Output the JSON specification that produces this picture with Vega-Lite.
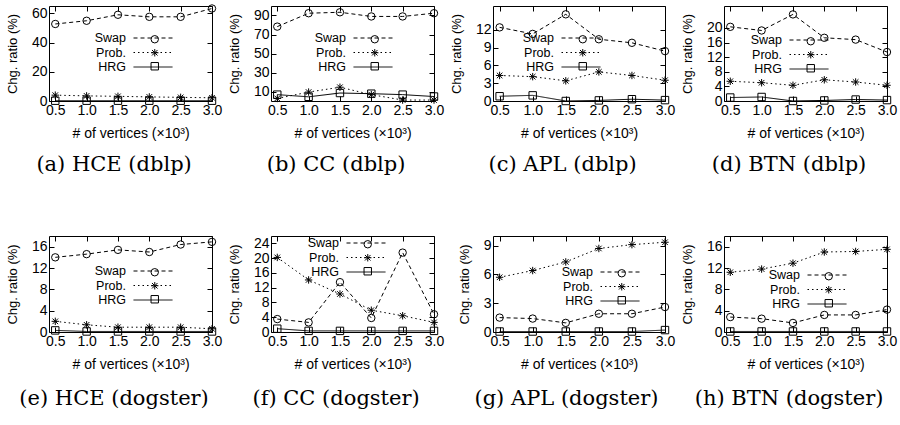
{
"$schema": "https://vega.github.io/schema/vega-lite/v6.json",
"background": "white",
"padding": {"left": 5, "top": 2, "right": 5, "bottom": 5},
"data": {"values": [
{"panel":"a","series":"Swap","x":0.5,"y":52.7},{"panel":"a","series":"Swap","x":1.0,"y":54.9},{"panel":"a","series":"Swap","x":1.5,"y":59.0},{"panel":"a","series":"Swap","x":2.0,"y":57.6},{"panel":"a","series":"Swap","x":2.5,"y":57.6},{"panel":"a","series":"Swap","x":3.0,"y":63.3},
{"panel":"a","series":"Prob.","x":0.5,"y":4.0},{"panel":"a","series":"Prob.","x":1.0,"y":3.5},{"panel":"a","series":"Prob.","x":1.5,"y":3.2},{"panel":"a","series":"Prob.","x":2.0,"y":2.8},{"panel":"a","series":"Prob.","x":2.5,"y":2.5},{"panel":"a","series":"Prob.","x":3.0,"y":2.2},
{"panel":"a","series":"HRG","x":0.5,"y":0.2},{"panel":"a","series":"HRG","x":1.0,"y":0.2},{"panel":"a","series":"HRG","x":1.5,"y":0.2},{"panel":"a","series":"HRG","x":2.0,"y":0.2},{"panel":"a","series":"HRG","x":2.5,"y":0.2},{"panel":"a","series":"HRG","x":3.0,"y":0.2},
{"panel":"b","series":"Swap","x":0.5,"y":78.3},{"panel":"b","series":"Swap","x":1.0,"y":92.4},{"panel":"b","series":"Swap","x":1.5,"y":93.4},{"panel":"b","series":"Swap","x":2.0,"y":89.0},{"panel":"b","series":"Swap","x":2.5,"y":89.0},{"panel":"b","series":"Swap","x":3.0,"y":92.4},
{"panel":"b","series":"Prob.","x":0.5,"y":2.7},{"panel":"b","series":"Prob.","x":1.0,"y":9.4},{"panel":"b","series":"Prob.","x":1.5,"y":14.5},{"panel":"b","series":"Prob.","x":2.0,"y":6.7},{"panel":"b","series":"Prob.","x":2.5,"y":1.0},{"panel":"b","series":"Prob.","x":3.0,"y":1.0},
{"panel":"b","series":"HRG","x":0.5,"y":6.7},{"panel":"b","series":"HRG","x":1.0,"y":4.4},{"panel":"b","series":"HRG","x":1.5,"y":8.4},{"panel":"b","series":"HRG","x":2.0,"y":7.7},{"panel":"b","series":"HRG","x":2.5,"y":6.7},{"panel":"b","series":"HRG","x":3.0,"y":4.7},
{"panel":"c","series":"Swap","x":0.5,"y":12.4},{"panel":"c","series":"Swap","x":1.0,"y":11.3},{"panel":"c","series":"Swap","x":1.5,"y":14.6},{"panel":"c","series":"Swap","x":2.0,"y":10.4},{"panel":"c","series":"Swap","x":2.5,"y":9.8},{"panel":"c","series":"Swap","x":3.0,"y":8.4},
{"panel":"c","series":"Prob.","x":0.5,"y":4.3},{"panel":"c","series":"Prob.","x":1.0,"y":4.1},{"panel":"c","series":"Prob.","x":1.5,"y":3.4},{"panel":"c","series":"Prob.","x":2.0,"y":4.9},{"panel":"c","series":"Prob.","x":2.5,"y":4.3},{"panel":"c","series":"Prob.","x":3.0,"y":3.5},
{"panel":"c","series":"HRG","x":0.5,"y":0.8},{"panel":"c","series":"HRG","x":1.0,"y":0.95},{"panel":"c","series":"HRG","x":1.5,"y":0.0},{"panel":"c","series":"HRG","x":2.0,"y":0.1},{"panel":"c","series":"HRG","x":2.5,"y":0.3},{"panel":"c","series":"HRG","x":3.0,"y":0.15},
{"panel":"d","series":"Swap","x":0.5,"y":20.3},{"panel":"d","series":"Swap","x":1.0,"y":19.3},{"panel":"d","series":"Swap","x":1.5,"y":23.7},{"panel":"d","series":"Swap","x":2.0,"y":17.3},{"panel":"d","series":"Swap","x":2.5,"y":16.8},{"panel":"d","series":"Swap","x":3.0,"y":13.4},
{"panel":"d","series":"Prob.","x":0.5,"y":5.4},{"panel":"d","series":"Prob.","x":1.0,"y":5.0},{"panel":"d","series":"Prob.","x":1.5,"y":4.3},{"panel":"d","series":"Prob.","x":2.0,"y":5.8},{"panel":"d","series":"Prob.","x":2.5,"y":5.2},{"panel":"d","series":"Prob.","x":3.0,"y":4.3},
{"panel":"d","series":"HRG","x":0.5,"y":0.95},{"panel":"d","series":"HRG","x":1.0,"y":1.1},{"panel":"d","series":"HRG","x":1.5,"y":0.0},{"panel":"d","series":"HRG","x":2.0,"y":0.15},{"panel":"d","series":"HRG","x":2.5,"y":0.4},{"panel":"d","series":"HRG","x":3.0,"y":0.25},
{"panel":"e","series":"Swap","x":0.5,"y":14.0},{"panel":"e","series":"Swap","x":1.0,"y":14.6},{"panel":"e","series":"Swap","x":1.5,"y":15.4},{"panel":"e","series":"Swap","x":2.0,"y":15.0},{"panel":"e","series":"Swap","x":2.5,"y":16.4},{"panel":"e","series":"Swap","x":3.0,"y":16.9},
{"panel":"e","series":"Prob.","x":0.5,"y":2.0},{"panel":"e","series":"Prob.","x":1.0,"y":1.35},{"panel":"e","series":"Prob.","x":1.5,"y":0.9},{"panel":"e","series":"Prob.","x":2.0,"y":0.9},{"panel":"e","series":"Prob.","x":2.5,"y":0.9},{"panel":"e","series":"Prob.","x":3.0,"y":0.6},
{"panel":"e","series":"HRG","x":0.5,"y":0.3},{"panel":"e","series":"HRG","x":1.0,"y":0.1},{"panel":"e","series":"HRG","x":1.5,"y":0.1},{"panel":"e","series":"HRG","x":2.0,"y":0.1},{"panel":"e","series":"HRG","x":2.5,"y":0.1},{"panel":"e","series":"HRG","x":3.0,"y":0.1},
{"panel":"f","series":"Swap","x":0.5,"y":3.5},{"panel":"f","series":"Swap","x":1.0,"y":2.6},{"panel":"f","series":"Swap","x":1.5,"y":13.5},{"panel":"f","series":"Swap","x":2.0,"y":3.8},{"panel":"f","series":"Swap","x":2.5,"y":21.5},{"panel":"f","series":"Swap","x":3.0,"y":4.8},
{"panel":"f","series":"Prob.","x":0.5,"y":20.2},{"panel":"f","series":"Prob.","x":1.0,"y":14.1},{"panel":"f","series":"Prob.","x":1.5,"y":10.3},{"panel":"f","series":"Prob.","x":2.0,"y":5.9},{"panel":"f","series":"Prob.","x":2.5,"y":4.4},{"panel":"f","series":"Prob.","x":3.0,"y":2.6},
{"panel":"f","series":"HRG","x":0.5,"y":0.9},{"panel":"f","series":"HRG","x":1.0,"y":0.3},{"panel":"f","series":"HRG","x":1.5,"y":0.3},{"panel":"f","series":"HRG","x":2.0,"y":0.3},{"panel":"f","series":"HRG","x":2.5,"y":0.3},{"panel":"f","series":"HRG","x":3.0,"y":0.3},
{"panel":"g","series":"Swap","x":0.5,"y":1.5},{"panel":"g","series":"Swap","x":1.0,"y":1.4},{"panel":"g","series":"Swap","x":1.5,"y":0.95},{"panel":"g","series":"Swap","x":2.0,"y":1.9},{"panel":"g","series":"Swap","x":2.5,"y":1.9},{"panel":"g","series":"Swap","x":3.0,"y":2.6},
{"panel":"g","series":"Prob.","x":0.5,"y":5.7},{"panel":"g","series":"Prob.","x":1.0,"y":6.4},{"panel":"g","series":"Prob.","x":1.5,"y":7.3},{"panel":"g","series":"Prob.","x":2.0,"y":8.7},{"panel":"g","series":"Prob.","x":2.5,"y":9.1},{"panel":"g","series":"Prob.","x":3.0,"y":9.35},
{"panel":"g","series":"HRG","x":0.5,"y":0.05},{"panel":"g","series":"HRG","x":1.0,"y":0.05},{"panel":"g","series":"HRG","x":1.5,"y":0.05},{"panel":"g","series":"HRG","x":2.0,"y":0.05},{"panel":"g","series":"HRG","x":2.5,"y":0.05},{"panel":"g","series":"HRG","x":3.0,"y":0.2},
{"panel":"h","series":"Swap","x":0.5,"y":2.8},{"panel":"h","series":"Swap","x":1.0,"y":2.5},{"panel":"h","series":"Swap","x":1.5,"y":1.7},{"panel":"h","series":"Swap","x":2.0,"y":3.2},{"panel":"h","series":"Swap","x":2.5,"y":3.2},{"panel":"h","series":"Swap","x":3.0,"y":4.2},
{"panel":"h","series":"Prob.","x":0.5,"y":11.2},{"panel":"h","series":"Prob.","x":1.0,"y":11.8},{"panel":"h","series":"Prob.","x":1.5,"y":12.9},{"panel":"h","series":"Prob.","x":2.0,"y":15.0},{"panel":"h","series":"Prob.","x":2.5,"y":15.1},{"panel":"h","series":"Prob.","x":3.0,"y":15.5},
{"panel":"h","series":"HRG","x":0.5,"y":0.1},{"panel":"h","series":"HRG","x":1.0,"y":0.1},{"panel":"h","series":"HRG","x":1.5,"y":0.1},{"panel":"h","series":"HRG","x":2.0,"y":0.1},{"panel":"h","series":"HRG","x":2.5,"y":0.1},{"panel":"h","series":"HRG","x":3.0,"y":0.1}
]},
"columns": 4,
"spacing": {"row": 135, "column": 59},
"bounds": "flush",
"resolve": {"scale": {"strokeDash": "independent", "strokeWidth": "independent", "shape": "independent"}},
"concat": [
{"width":163,"height":95,"title":{"text":"(a) HCE (dblp)","offset":14},"transform":[{"filter":"datum.panel==='a'"}],
"layer":[
{"mark":{"type":"line","color":"black"},"encoding":{
"x":{"field":"x","type":"quantitative","scale":{"domain":[0.5,3]},"axis":{"values":[0.5,1,1.5,2,2.5,3],"format":".1f","title":"# of vertices (×10³)"}},
"y":{"field":"y","type":"quantitative","scale":{"domain":[0,65]},"axis":{"values":[0,20,40,60],"title":"Chg. ratio (%)"}},
"strokeDash":{"field":"series","type":"nominal","scale":{"domain":["Swap","Prob.","HRG"],"range":[[4,3],[1.5,3],[1,0]]},"legend":{"title":null,"legendX":97,"legendY":25,"symbolType":"M-3,0H3","symbolSize":169,"labelAlign":"right","labelOffset":-34,"encode":{"symbols":{"update":{"strokeWidth":{"signal":"datum.value==='HRG'?1.6:1"}}}}}},
"strokeWidth":{"field":"series","type":"nominal","scale":{"domain":["Swap","Prob.","HRG"],"range":[1,1,1.6]},"legend":null}}},
{"mark":{"type":"point","filled":false,"color":"black","size":55,"strokeWidth":1,"opacity":1},"encoding":{
"x":{"field":"x","type":"quantitative","axis":{"orient":"top","values":[0.5,1,1.5,2,2.5,3],"labels":false,"title":null}},
"y":{"field":"y","type":"quantitative","axis":{"orient":"right","values":[0,20,40,60],"labels":false,"title":null}},
"shape":{"field":"series","type":"nominal","sort":["Swap","Prob.","HRG"],"scale":{"range":["circle","M-1,0L1,0M0,-1L0,1M-0.75,-0.75L0.75,0.75M-0.75,0.75L0.75,-0.75","square"]},"legend":{"title":null,"legendX":99.5,"legendY":27,"symbolSize":55,"labelOpacity":0,"symbolFillColor":"transparent"}}}}
],
"resolve":{"axis":{"x":"independent","y":"independent"}}},

{"width":163,"height":95,"title":{"text":"(b) CC (dblp)","offset":14},"transform":[{"filter":"datum.panel==='b'"}],
"layer":[
{"mark":{"type":"line","color":"black"},"encoding":{
"x":{"field":"x","type":"quantitative","scale":{"domain":[0.5,3]},"axis":{"values":[0.5,1,1.5,2,2.5,3],"format":".1f","title":"# of vertices (×10³)"}},
"y":{"field":"y","type":"quantitative","scale":{"domain":[0,96]},"axis":{"values":[10,30,50,70,90],"title":"Chg. ratio (%)"}},
"strokeDash":{"field":"series","type":"nominal","scale":{"domain":["Swap","Prob.","HRG"],"range":[[4,3],[1.5,3],[1,0]]},"legend":{"title":null,"legendX":95,"legendY":25,"symbolType":"M-3,0H3","symbolSize":169,"labelAlign":"right","labelOffset":-34,"encode":{"symbols":{"update":{"strokeWidth":{"signal":"datum.value==='HRG'?1.6:1"}}}}}},
"strokeWidth":{"field":"series","type":"nominal","scale":{"domain":["Swap","Prob.","HRG"],"range":[1,1,1.6]},"legend":null}}},
{"mark":{"type":"point","filled":false,"color":"black","size":55,"strokeWidth":1,"opacity":1},"encoding":{
"x":{"field":"x","type":"quantitative","axis":{"orient":"top","values":[0.5,1,1.5,2,2.5,3],"labels":false,"title":null}},
"y":{"field":"y","type":"quantitative","axis":{"orient":"right","values":[10,30,50,70,90],"labels":false,"title":null}},
"shape":{"field":"series","type":"nominal","sort":["Swap","Prob.","HRG"],"scale":{"range":["circle","M-1,0L1,0M0,-1L0,1M-0.75,-0.75L0.75,0.75M-0.75,0.75L0.75,-0.75","square"]},"legend":{"title":null,"legendX":97.5,"legendY":27,"symbolSize":55,"labelOpacity":0,"symbolFillColor":"transparent"}}}}
],
"resolve":{"axis":{"x":"independent","y":"independent"}}},

{"width":172,"height":95,"title":{"text":"(c) APL (dblp)","offset":14},"transform":[{"filter":"datum.panel==='c'"}],
"layer":[
{"mark":{"type":"line","color":"black"},"encoding":{
"x":{"field":"x","type":"quantitative","scale":{"domain":[0.5,3]},"axis":{"values":[0.5,1,1.5,2,2.5,3],"format":".1f","title":"# of vertices (×10³)"}},
"y":{"field":"y","type":"quantitative","scale":{"domain":[0,15]},"axis":{"values":[0,3,6,9,12],"title":"Chg. ratio (%)"}},
"strokeDash":{"field":"series","type":"nominal","scale":{"domain":["Swap","Prob.","HRG"],"range":[[4,3],[1.5,3],[1,0]]},"legend":{"title":null,"legendX":81,"legendY":25,"symbolType":"M-3,0H3","symbolSize":169,"labelAlign":"right","labelOffset":-34,"encode":{"symbols":{"update":{"strokeWidth":{"signal":"datum.value==='HRG'?1.6:1"}}}}}},
"strokeWidth":{"field":"series","type":"nominal","scale":{"domain":["Swap","Prob.","HRG"],"range":[1,1,1.6]},"legend":null}}},
{"mark":{"type":"point","filled":false,"color":"black","size":55,"strokeWidth":1,"opacity":1},"encoding":{
"x":{"field":"x","type":"quantitative","axis":{"orient":"top","values":[0.5,1,1.5,2,2.5,3],"labels":false,"title":null}},
"y":{"field":"y","type":"quantitative","axis":{"orient":"right","values":[0,3,6,9,12],"labels":false,"title":null}},
"shape":{"field":"series","type":"nominal","sort":["Swap","Prob.","HRG"],"scale":{"range":["circle","M-1,0L1,0M0,-1L0,1M-0.75,-0.75L0.75,0.75M-0.75,0.75L0.75,-0.75","square"]},"legend":{"title":null,"legendX":83.5,"legendY":27,"symbolSize":55,"labelOpacity":0,"symbolFillColor":"transparent"}}}}
],
"resolve":{"axis":{"x":"independent","y":"independent"}}},

{"width":163,"height":95,"title":{"text":"(d) BTN (dblp)","offset":14},"transform":[{"filter":"datum.panel==='d'"}],
"layer":[
{"mark":{"type":"line","color":"black"},"encoding":{
"x":{"field":"x","type":"quantitative","scale":{"domain":[0.5,3]},"axis":{"values":[0.5,1,1.5,2,2.5,3],"format":".1f","title":"# of vertices (×10³)"}},
"y":{"field":"y","type":"quantitative","scale":{"domain":[0,24.5]},"axis":{"values":[0,4,8,12,16,20],"title":"Chg. ratio (%)"}},
"strokeDash":{"field":"series","type":"nominal","scale":{"domain":["Swap","Prob.","HRG"],"range":[[4,3],[1.5,3],[1,0]]},"legend":{"title":null,"legendX":78,"legendY":27,"symbolType":"M-3,0H3","symbolSize":169,"labelAlign":"right","labelOffset":-34,"encode":{"symbols":{"update":{"strokeWidth":{"signal":"datum.value==='HRG'?1.6:1"}}}}}},
"strokeWidth":{"field":"series","type":"nominal","scale":{"domain":["Swap","Prob.","HRG"],"range":[1,1,1.6]},"legend":null}}},
{"mark":{"type":"point","filled":false,"color":"black","size":55,"strokeWidth":1,"opacity":1},"encoding":{
"x":{"field":"x","type":"quantitative","axis":{"orient":"top","values":[0.5,1,1.5,2,2.5,3],"labels":false,"title":null}},
"y":{"field":"y","type":"quantitative","axis":{"orient":"right","values":[0,4,8,12,16,20],"labels":false,"title":null}},
"shape":{"field":"series","type":"nominal","sort":["Swap","Prob.","HRG"],"scale":{"range":["circle","M-1,0L1,0M0,-1L0,1M-0.75,-0.75L0.75,0.75M-0.75,0.75L0.75,-0.75","square"]},"legend":{"title":null,"legendX":80.5,"legendY":29,"symbolSize":55,"labelOpacity":0,"symbolFillColor":"transparent"}}}}
],
"resolve":{"axis":{"x":"independent","y":"independent"}}},

{"width":163,"height":96,"title":{"text":"(e) HCE (dogster)","offset":17},"transform":[{"filter":"datum.panel==='e'"}],
"layer":[
{"mark":{"type":"line","color":"black"},"encoding":{
"x":{"field":"x","type":"quantitative","scale":{"domain":[0.5,3]},"axis":{"values":[0.5,1,1.5,2,2.5,3],"format":".1f","title":"# of vertices (×10³)"}},
"y":{"field":"y","type":"quantitative","scale":{"domain":[0,17.5]},"axis":{"values":[0,4,8,12,16],"title":"Chg. ratio (%)"}},
"strokeDash":{"field":"series","type":"nominal","scale":{"domain":["Swap","Prob.","HRG"],"range":[[4,3],[1.5,3],[1,0]]},"legend":{"title":null,"legendX":97,"legendY":28,"symbolType":"M-3,0H3","symbolSize":169,"labelAlign":"right","labelOffset":-34,"encode":{"symbols":{"update":{"strokeWidth":{"signal":"datum.value==='HRG'?1.6:1"}}}}}},
"strokeWidth":{"field":"series","type":"nominal","scale":{"domain":["Swap","Prob.","HRG"],"range":[1,1,1.6]},"legend":null}}},
{"mark":{"type":"point","filled":false,"color":"black","size":55,"strokeWidth":1,"opacity":1},"encoding":{
"x":{"field":"x","type":"quantitative","axis":{"orient":"top","values":[0.5,1,1.5,2,2.5,3],"labels":false,"title":null}},
"y":{"field":"y","type":"quantitative","axis":{"orient":"right","values":[0,4,8,12,16],"labels":false,"title":null}},
"shape":{"field":"series","type":"nominal","sort":["Swap","Prob.","HRG"],"scale":{"range":["circle","M-1,0L1,0M0,-1L0,1M-0.75,-0.75L0.75,0.75M-0.75,0.75L0.75,-0.75","square"]},"legend":{"title":null,"legendX":99.5,"legendY":30,"symbolSize":55,"labelOpacity":0,"symbolFillColor":"transparent"}}}}
],
"resolve":{"axis":{"x":"independent","y":"independent"}}},

{"width":163,"height":96,"title":{"text":"(f) CC (dogster)","offset":17},"transform":[{"filter":"datum.panel==='f'"}],
"layer":[
{"mark":{"type":"line","color":"black"},"encoding":{
"x":{"field":"x","type":"quantitative","scale":{"domain":[0.5,3]},"axis":{"values":[0.5,1,1.5,2,2.5,3],"format":".1f","title":"# of vertices (×10³)"}},
"y":{"field":"y","type":"quantitative","scale":{"domain":[0,25]},"axis":{"values":[0,4,8,12,16,20,24],"title":"Chg. ratio (%)"}},
"strokeDash":{"field":"series","type":"nominal","scale":{"domain":["Swap","Prob.","HRG"],"range":[[4,3],[1.5,3],[1,0]]},"legend":{"title":null,"legendX":88,"legendY":0,"symbolType":"M-3,0H3","symbolSize":169,"labelAlign":"right","labelOffset":-34,"encode":{"symbols":{"update":{"strokeWidth":{"signal":"datum.value==='HRG'?1.6:1"}}}}}},
"strokeWidth":{"field":"series","type":"nominal","scale":{"domain":["Swap","Prob.","HRG"],"range":[1,1,1.6]},"legend":null}}},
{"mark":{"type":"point","filled":false,"color":"black","size":55,"strokeWidth":1,"opacity":1},"encoding":{
"x":{"field":"x","type":"quantitative","axis":{"orient":"top","values":[0.5,1,1.5,2,2.5,3],"labels":false,"title":null}},
"y":{"field":"y","type":"quantitative","axis":{"orient":"right","values":[0,4,8,12,16,20,24],"labels":false,"title":null}},
"shape":{"field":"series","type":"nominal","sort":["Swap","Prob.","HRG"],"scale":{"range":["circle","M-1,0L1,0M0,-1L0,1M-0.75,-0.75L0.75,0.75M-0.75,0.75L0.75,-0.75","square"]},"legend":{"title":null,"legendX":90.5,"legendY":2,"symbolSize":55,"labelOpacity":0,"symbolFillColor":"transparent"}}}}
],
"resolve":{"axis":{"x":"independent","y":"independent"}}},

{"width":172,"height":96,"title":{"text":"(g) APL (dogster)","offset":17},"transform":[{"filter":"datum.panel==='g'"}],
"layer":[
{"mark":{"type":"line","color":"black"},"encoding":{
"x":{"field":"x","type":"quantitative","scale":{"domain":[0.5,3]},"axis":{"values":[0.5,1,1.5,2,2.5,3],"format":".1f","title":"# of vertices (×10³)"}},
"y":{"field":"y","type":"quantitative","scale":{"domain":[0,9.7]},"axis":{"values":[0,3,6,9],"title":"Chg. ratio (%)"}},
"strokeDash":{"field":"series","type":"nominal","scale":{"domain":["Swap","Prob.","HRG"],"range":[[4,3],[1.5,3],[1,0]]},"legend":{"title":null,"legendX":120,"legendY":29,"symbolType":"M-3,0H3","symbolSize":169,"labelAlign":"right","labelOffset":-34,"encode":{"symbols":{"update":{"strokeWidth":{"signal":"datum.value==='HRG'?1.6:1"}}}}}},
"strokeWidth":{"field":"series","type":"nominal","scale":{"domain":["Swap","Prob.","HRG"],"range":[1,1,1.6]},"legend":null}}},
{"mark":{"type":"point","filled":false,"color":"black","size":55,"strokeWidth":1,"opacity":1},"encoding":{
"x":{"field":"x","type":"quantitative","axis":{"orient":"top","values":[0.5,1,1.5,2,2.5,3],"labels":false,"title":null}},
"y":{"field":"y","type":"quantitative","axis":{"orient":"right","values":[0,3,6,9],"labels":false,"title":null}},
"shape":{"field":"series","type":"nominal","sort":["Swap","Prob.","HRG"],"scale":{"range":["circle","M-1,0L1,0M0,-1L0,1M-0.75,-0.75L0.75,0.75M-0.75,0.75L0.75,-0.75","square"]},"legend":{"title":null,"legendX":122.5,"legendY":31,"symbolSize":55,"labelOpacity":0,"symbolFillColor":"transparent"}}}}
],
"resolve":{"axis":{"x":"independent","y":"independent"}}},

{"width":163,"height":96,"title":{"text":"(h) BTN (dogster)","offset":17},"transform":[{"filter":"datum.panel==='h'"}],
"layer":[
{"mark":{"type":"line","color":"black"},"encoding":{
"x":{"field":"x","type":"quantitative","scale":{"domain":[0.5,3]},"axis":{"values":[0.5,1,1.5,2,2.5,3],"format":".1f","title":"# of vertices (×10³)"}},
"y":{"field":"y","type":"quantitative","scale":{"domain":[0,17.4]},"axis":{"values":[0,4,8,12,16],"title":"Chg. ratio (%)"}},
"strokeDash":{"field":"series","type":"nominal","scale":{"domain":["Swap","Prob.","HRG"],"range":[[4,3],[1.5,3],[1,0]]},"legend":{"title":null,"legendX":96,"legendY":32,"symbolType":"M-3,0H3","symbolSize":169,"labelAlign":"right","labelOffset":-34,"encode":{"symbols":{"update":{"strokeWidth":{"signal":"datum.value==='HRG'?1.6:1"}}}}}},
"strokeWidth":{"field":"series","type":"nominal","scale":{"domain":["Swap","Prob.","HRG"],"range":[1,1,1.6]},"legend":null}}},
{"mark":{"type":"point","filled":false,"color":"black","size":55,"strokeWidth":1,"opacity":1},"encoding":{
"x":{"field":"x","type":"quantitative","axis":{"orient":"top","values":[0.5,1,1.5,2,2.5,3],"labels":false,"title":null}},
"y":{"field":"y","type":"quantitative","axis":{"orient":"right","values":[0,4,8,12,16],"labels":false,"title":null}},
"shape":{"field":"series","type":"nominal","sort":["Swap","Prob.","HRG"],"scale":{"range":["circle","M-1,0L1,0M0,-1L0,1M-0.75,-0.75L0.75,0.75M-0.75,0.75L0.75,-0.75","square"]},"legend":{"title":null,"legendX":98.5,"legendY":34,"symbolSize":55,"labelOpacity":0,"symbolFillColor":"transparent"}}}}
],
"resolve":{"axis":{"x":"independent","y":"independent"}}}
],
"config": {
"font": "Liberation Sans",
"view": {"stroke": "black", "strokeWidth": 1},
"axis": {"labelFont": "Liberation Sans", "labelFontSize": 14, "labelColor": "black", "titleFont": "Liberation Sans", "titleFontSize": 14, "titleFontWeight": "normal", "titleColor": "black", "tickColor": "black", "tickWidth": 1, "tickSize": -5, "domain": false, "grid": false, "labelPadding": 7, "labelFlush": false, "labelOverlap": false},
"axisX": {"titlePadding": 9},
"axisY": {"titleFontSize": 13, "titlePadding": 12},
"legend": {"orient": "none", "labelFont": "Liberation Sans", "labelFontSize": 12.5, "labelColor": "black", "rowPadding": 0.5, "symbolStrokeColor": "black", "symbolStrokeWidth": 1},
"title": {"orient": "bottom", "font": "DejaVu Serif", "fontSize": 21, "fontWeight": "normal", "color": "black", "anchor": "middle", "frame": "bounds"}
}
}
